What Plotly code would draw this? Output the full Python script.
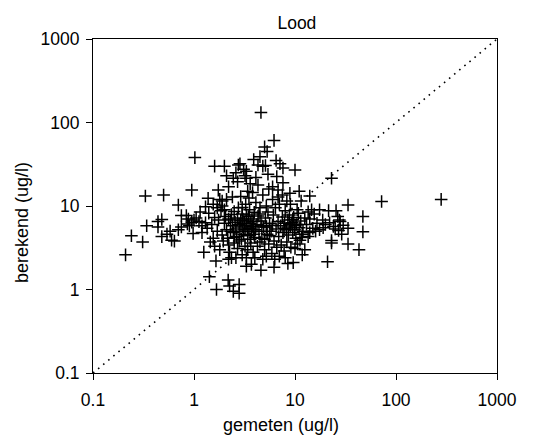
import plotly.graph_objects as go

# gemeten (x) vs berekend (y)
gemeten = [
    4.6, 6.2, 5.0, 5.3, 4.5, 1.02, 3.9, 6.5, 7.1, 2.85,
    2.75, 1.6, 2.0, 7.6, 10.0, 4.8, 4.3, 5.1, 3.3, 3.2,
    3.3, 2.1, 2.45, 23, 6.6, 7.6, 4.3, 2.7, 0.95, 1.74,
    3.4, 6.8, 8.9, 11, 14, 0.33, 0.5, 1.38, 1.8, 1.9,
    2.1, 8.3, 11.5, 72, 280, 33.5, 0.70, 0.24, 0.21, 0.31,
    0.34, 0.44, 0.48, 0.48, 0.44, 0.6, 0.64, 0.58, 0.54, 0.70,
    0.75, 0.75, 0.84, 0.88, 0.95, 0.86, 1.0, 1.05, 0.98, 1.12,
    1.25, 1.42, 1.67, 1.65, 2.18, 2.25, 2.45, 2.8, 2.8, 2.2,
    2.35, 3.3, 3.7, 3.3, 4.6, 6.2, 4.8, 5.2, 8.5, 9.6,
    11.8, 21, 23, 23, 33.5, 43, 47, 47, 33.5, 29,
    26.5, 27.5, 21.5, 25.5, 17.5, 14.6, 18.8, 24, 25, 27,
    15, 16, 17.5, 14, 11.2, 11.6, 10, 20, 22, 13,
    12.5, 14, 16.5, 19, 13.5, 15.5, 12, 30, 28, 1.2,
    1.3, 1.35, 1.5, 1.55, 1.45, 1.6, 1.7, 1.75, 1.6, 1.85,
    1.9, 1.8, 1.95, 1.7, 1.55, 1.9, 2.0, 2.05, 2.0, 2.1,
    2.15, 2.2, 2.25, 2.3, 2.35, 2.4, 2.45, 2.5, 2.5, 2.55,
    2.6, 2.65, 2.7, 2.7, 2.75, 2.8, 2.85, 2.9, 2.95, 3.0,
    3.0, 3.05, 3.1, 3.15, 3.2, 3.2, 3.25, 3.3, 3.35, 3.4,
    3.45, 3.5, 3.5, 3.55, 3.6, 3.65, 3.7, 3.75, 3.8, 3.85,
    3.9, 3.95, 4.0, 4.05, 4.1, 4.2, 4.25, 4.3, 4.4, 4.5,
    4.6, 4.7, 4.8, 4.9, 5.0, 5.1, 5.2, 5.3, 5.4, 5.5,
    5.6, 5.8, 5.9, 6.0, 6.1, 6.2, 6.4, 6.5, 6.6, 6.8,
    6.9, 7.0, 7.2, 7.3, 7.5, 7.6, 7.8, 7.9, 8.0, 8.2,
    8.3, 8.5, 8.6, 8.8, 9.0, 9.1, 9.3, 9.5, 9.7, 9.9,
    10.2, 10.4, 10.6, 10.8, 11.0, 11.4, 11.8, 2.6, 3.0, 4.0,
    2.9, 2.4, 3.8, 5.5, 3.6, 4.1, 2.6, 3.1, 5.4, 6.0,
    2.2, 1.3, 1.15, 3.4, 2.8, 3.6, 4.5, 5.0, 5.6, 3.3,
    4.4, 3.0, 2.2, 6.3, 7.0, 8.0, 1.2, 1.4, 0.9, 9.0,
    10.5, 6.8, 7.5, 12.5, 13.5, 2.3, 2.5, 3.9, 4.7, 5.2,
    6.0, 7.8, 8.8, 9.5, 10.0,
]
berekend = [
    132, 61, 51, 45, 39, 38, 36, 35, 32, 32,
    31, 30, 30, 28.5, 27, 30, 31, 30.5, 26, 23,
    21.5, 23, 21.5, 21.5, 22.5, 19, 17.8, 19.5, 15.5, 15.5,
    15, 15.5, 14.2, 15, 13.2, 13.2, 13.5, 12.4, 12, 11.5,
    12, 11.5, 11.5, 11.3, 12, 10.3, 10.3, 4.4, 2.6, 3.7,
    5.8, 6.5, 6.9, 4.3, 5.6, 3.9, 3.8, 5.0, 4.6, 5.2,
    5.6, 7.7, 7.7, 7.0, 6.4, 6.1, 6.8, 7.2, 4.7, 6.5,
    2.8, 1.42, 1.0, 2.2, 1.3, 1.1, 0.95, 0.9, 1.15, 2.3,
    2.4, 1.9, 2.0, 2.4, 1.7, 1.85, 2.3, 2.5, 2.05, 2.1,
    2.6, 2.15, 3.6, 3.85, 3.5, 3.0, 4.9, 7.5, 5.4, 4.6,
    7.5, 6.8, 8.8, 8.8, 9.0, 9.0, 6.8, 5.7, 5.3, 5.1,
    5.4, 5.0, 5.2, 4.8, 3.9, 4.2, 3.1, 6.0, 6.3, 6.0,
    7.2, 7.0, 6.2, 5.5, 8.5, 8.0, 5.0, 5.9, 6.5, 5.8,
    6.3, 5.4, 6.0, 4.1, 3.7, 3.3, 5.0, 6.8, 7.3, 8.8,
    4.5, 3.0, 3.8, 9.5, 10.5, 10.0, 9.0, 7.5, 6.2, 5.2,
    4.1, 3.4, 2.8, 6.8, 7.9, 5.8, 4.8, 3.6, 8.6, 6.4,
    5.3, 4.3, 7.2, 3.1, 9.5, 6.0, 5.0, 6.7, 4.0, 5.6,
    8.0, 7.0, 4.6, 6.2, 3.3, 5.2, 10.5, 6.6, 5.8, 4.4,
    7.5, 12.5, 5.4, 9.0, 6.2, 3.6, 4.9, 7.0, 5.7, 2.8,
    6.5, 8.4, 4.2, 5.2, 11.0, 6.0, 3.3, 7.6, 5.0, 9.5,
    6.6, 4.1, 13.5, 5.6, 3.0, 7.2, 10.0, 4.6, 8.5, 3.5,
    6.2, 5.0, 2.7, 12.0, 7.8, 3.8, 9.5, 5.3, 3.2, 6.5,
    4.3, 10.5, 5.8, 3.4, 7.4, 4.8, 2.9, 6.2, 8.8, 5.2,
    3.7, 6.8, 4.5, 7.8, 5.6, 3.2, 6.3, 4.8, 7.3, 5.2,
    4.1, 6.0, 3.5, 8.2, 5.5, 6.6, 4.6, 2.4, 2.6, 2.4,
    13.0, 12.8, 14.5, 16.0, 18.5, 22.0, 25.0, 27.5, 24.0, 17.0,
    17.0, 9.8, 8.5, 3.0, 3.8, 4.0, 3.7, 4.0, 4.4, 7.8,
    8.0, 9.6, 7.0, 2.3, 2.5, 2.4, 4.8, 8.2, 5.8, 10.5,
    9.0, 12.8, 13.5, 3.0, 4.3, 5.0, 4.2, 4.6, 5.8, 5.6,
    5.9, 5.4, 6.0, 6.9, 5.9,
]

# 1:1 line
lijn = [0.1, 1000]

fig = go.Figure()

fig.add_trace(go.Scatter(x = lijn, y = lijn,
                         mode = 'lines',
                         line = dict(color = 'black', width = 1.6, dash = '1.6px,5px'),
                         hoverinfo = 'skip',
                         showlegend = False))

fig.add_trace(go.Scatter(x = gemeten, y = berekend,
                         mode = 'markers',
                         marker = dict(symbol = 'cross-thin', size = 9,
                                       line = dict(color = 'black', width = 1.5)),
                         showlegend = False))

ticks = [0.1, 1, 10, 100, 1000]
ticklabels = ['0.1', '1', '10', '100', '1000']

axis_style = dict(type = 'log',
                  range = [-1, 3],
                  tickvals = ticks,
                  ticktext = ticklabels,
                  showgrid = False,
                  zeroline = False,
                  showline = True,
                  mirror = True,
                  linecolor = 'black',
                  linewidth = 1,
                  ticks = 'outside',
                  ticklen = 6,
                  tickcolor = 'black',
                  tickfont = dict(size = 17.5, color = 'black'))

# the page body adds 8px around the figure, so the margins are shifted by it
fig.update_layout(
    width = 536, height = 437,
    margin = dict(l = 85, r = 47, t = 31, b = 72),
    paper_bgcolor = 'white',
    plot_bgcolor = 'white',
    font = dict(family = 'Liberation Sans, Arial, sans-serif', size = 17.5, color = 'black'),
    title = {'text': 'Lood',
             'x': 0.539,
             'y': 0.966,
             'xanchor': 'center',
             'yanchor': 'middle',
             'font': dict(size = 17.5)},
    xaxis = dict(axis_style, ticklabelstandoff = 5),
    yaxis = dict(axis_style, ticklabelstandoff = 3),
)

# axis titles sit a little off-centre in the original, so place them by hand
fig.add_annotation(text = 'gemeten (ug/l)',
                   xref = 'paper', yref = 'paper',
                   x = 0.465, y = 0,
                   xanchor = 'center', yanchor = 'middle',
                   yshift = -52,
                   showarrow = False,
                   font = dict(size = 18))
fig.add_annotation(text = 'berekend (ug/l)',
                   xref = 'paper', yref = 'paper',
                   x = 0, y = 0.449,
                   xanchor = 'center', yanchor = 'middle',
                   xshift = -71,
                   textangle = -90,
                   showarrow = False,
                   font = dict(size = 18))

fig.write_html("out.html")
